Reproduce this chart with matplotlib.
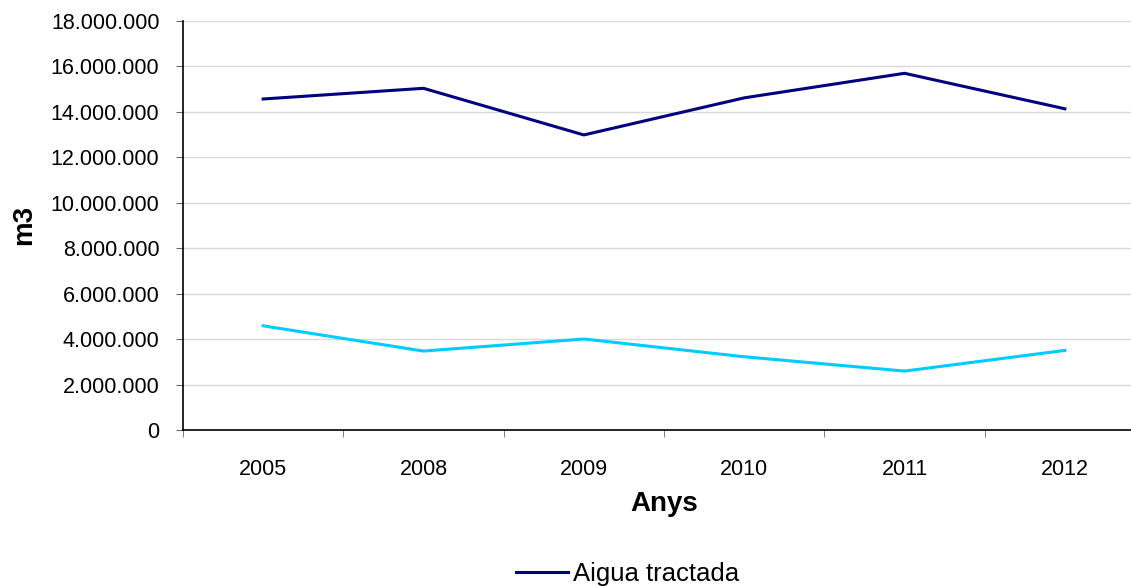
import matplotlib.pyplot as plt
import matplotlib.ticker as ticker
import numpy as np

plt.rcParams['font.family'] = ['Liberation Sans', 'DejaVu Sans']

anys = ["2005", "2008", "2009", "2010", "2011", "2012"]
aigua_tractada = [14550000, 15020000, 12970000, 14600000, 15680000, 14120000]
segona_serie = [4580000, 3470000, 4000000, 3220000, 2590000, 3500000]

fig = plt.figure(figsize=(11.31, 5.86), dpi=100)
ax = fig.add_axes([0.1618, 0.2662, 0.8506, 0.6988])

x = np.arange(len(anys))
ax.plot(x, aigua_tractada, color="#000080", lw=2.2, label="Aigua tractada")
ax.plot(x, segona_serie, color="#00CCFF", lw=2.2)

ax.set_xlim(-0.5, len(anys) - 0.5)
ax.set_ylim(0, 18000000)
ax.yaxis.set_major_locator(ticker.MultipleLocator(2000000))
ax.yaxis.set_major_formatter(ticker.FuncFormatter(lambda v, p: f"{int(v):,}".replace(",", ".")))
ax.set_xticks(x)
ax.set_xticklabels(anys)
ax.set_xticks(np.arange(-0.5, len(anys), 1), minor=True)
ax.tick_params(axis="x", which="major", length=0, pad=21, labelsize=15.5)
ax.tick_params(axis="x", which="minor", length=5, color="#666666", direction="out")
ax.tick_params(axis="y", length=5, color="#666666", labelsize=15.5, pad=12)

ax.grid(axis="y", color="#d9d9d9", lw=1)
ax.set_axisbelow(True)
for s in ["top", "right"]:
    ax.spines[s].set_visible(False)
ax.spines["left"].set_linewidth(1.2)
ax.spines["bottom"].set_linewidth(1.2)

ax.set_xlabel("Anys", fontsize=20, fontweight="bold", labelpad=8)
ax.set_ylabel("m3", fontsize=20, fontweight="bold", labelpad=10)

fig.legend(loc="center", bbox_to_anchor=(0.555, 0.021), frameon=False, fontsize=18.5,
           handlelength=2.0, handletextpad=0.2)

fig.savefig("out.png", dpi=100)
